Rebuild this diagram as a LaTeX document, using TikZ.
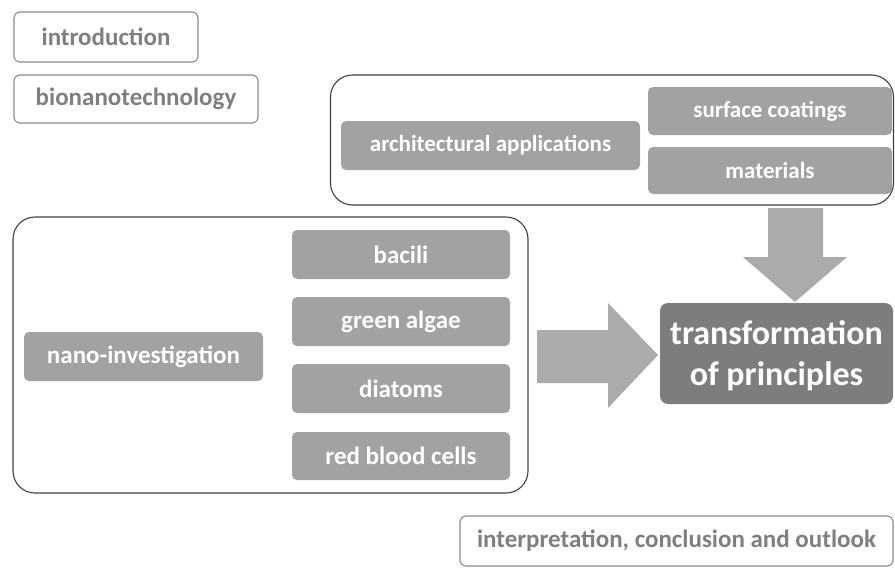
\documentclass[tikz,border=0pt]{standalone}
\usepackage{fontspec}
\setmainfont{Carlito}
\usetikzlibrary{calc,positioning}
\definecolor{linegray}{HTML}{8A8A8A}
\definecolor{textgray}{HTML}{7F7F7F}
\definecolor{boxgray}{HTML}{A2A2A2}
\definecolor{arrowgray}{HTML}{ABABAB}
\definecolor{darkgray}{HTML}{7D7D7D}

\begin{document}
\begin{tikzpicture}[x=1pt,y=-1pt,
  outline/.style={draw=linegray,line width=1.1pt,rounded corners=6pt,fill=white,
    text=textgray,inner sep=0pt,font=\fontsize{25}{30}\selectfont\bfseries},
  frame/.style={draw=black!75,line width=1.1pt,rounded corners=22pt,inner sep=0pt},
  topic/.style={fill=boxgray,rounded corners=5pt,text=white,inner sep=0pt,
    font=\fontsize{25}{30}\selectfont\bfseries},
  archtopic/.style={topic,font=\fontsize{23}{28}\selectfont\bfseries},
  result/.style={fill=darkgray,rounded corners=8pt,text=white,inner sep=0pt,align=center,
    text depth=0pt,font=\fontsize{34}{41}\selectfont\bfseries}]
  \useasboundingbox (0,0) rectangle (895,568);

  % chapters without content boxes
  \node[outline,minimum width=184pt,minimum height=50pt] (intro) at (106,37) {introduction};
  \node[outline,minimum width=244pt,minimum height=48pt] (bionano) at (136,99) {bionanotechnology};

  % architecture group
  \node[frame,minimum width=563pt,minimum height=130pt] (archframe) at (612,140) {};
  \node[archtopic,minimum width=299pt,minimum height=49pt] (arch) at (490.5,145.5) {architectural applications};
  \node[archtopic,minimum width=244pt,minimum height=48pt] (coat) at (770,111) {surface coatings};
  \node[archtopic,minimum width=244pt,minimum height=47pt] (mat) at (770,170.5) {materials};

  % nano group
  \node[frame,minimum width=515pt,minimum height=276pt] (nanoframe) at (270.5,355) {};
  \node[topic,minimum width=239pt,minimum height=49pt] (nano) at (143.5,356.5) {nano-investigation};
  \node[topic,minimum width=218pt,minimum height=49pt] (bacili) at (401,254.5) {bacili};
  \node[topic,minimum width=218pt,minimum height=49pt] (algae) at (401,321.5) {green algae};
  \node[topic,minimum width=218pt,minimum height=49pt] (diatoms) at (401,388.5) {diatoms};
  \node[topic,minimum width=218pt,minimum height=48pt] (rbc) at (401,456) {red blood cells};

  \node[result,minimum width=233pt,minimum height=101pt] (transf) at (776.5,353.5)
    {transformation\\of principles};

  \node[outline,minimum width=433pt,minimum height=50pt] (outlook) at (676.5,541)
    {interpretation, conclusion and outlook};

  % block arrows
  \fill[arrowgray] (768,208) -- (823,208) -- (823,257) -- (847,257) -- (795,302)
    -- (743,257) -- (768,257) -- cycle;
  \fill[arrowgray] (537,330) -- (608,330) -- (608,303) -- (658,355) -- (608,408)
    -- (608,383) -- (537,383) -- cycle;
\end{tikzpicture}
\end{document}
